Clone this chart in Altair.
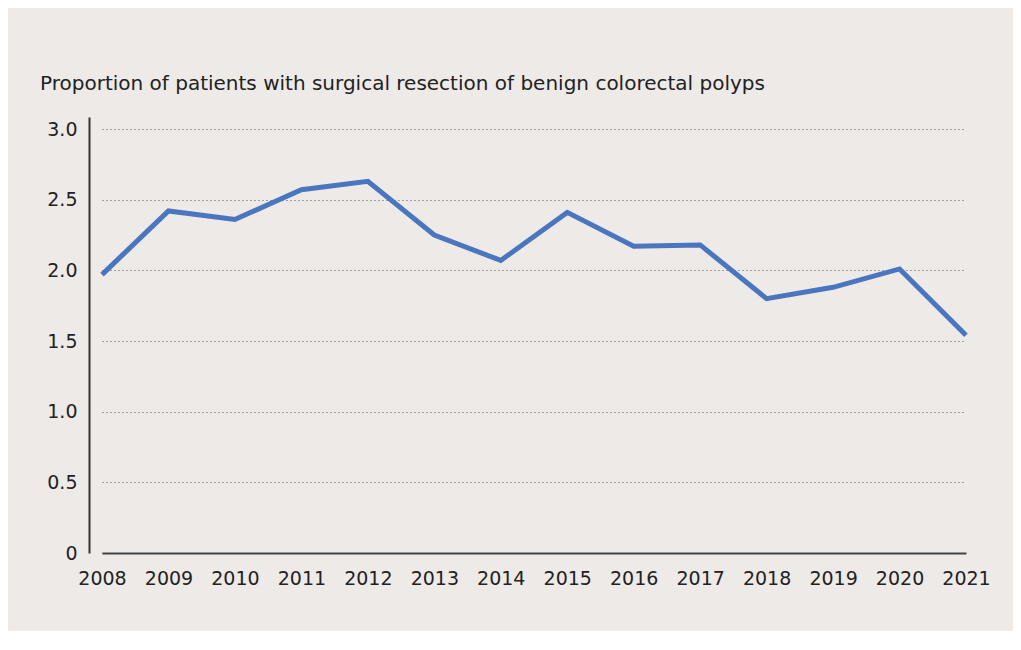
import altair as alt
import pandas as pd

years = [2008, 2009, 2010, 2011, 2012, 2013, 2014, 2015, 2016, 2017, 2018, 2019, 2020, 2021]
values = [1.97, 2.42, 2.36, 2.57, 2.63, 2.25, 2.07, 2.41, 2.17, 2.18, 1.80, 1.88, 2.01, 1.54]
y_ticks = [0, 0.5, 1.0, 1.5, 2.0, 2.5, 3.0]
title_text = "Proportion of patients with surgical resection of benign colorectal polyps"

df = pd.DataFrame({"year": years, "value": values})
FONT = "DejaVu Sans"

line = alt.Chart(df).mark_line(color="#4a76bf", strokeWidth=5, strokeJoin="miter").encode(
    x=alt.X("year:Q",
            scale=alt.Scale(domain=[2008, 2021], nice=False, zero=False),
            axis=alt.Axis(values=years, format="d", title=None, grid=False, ticks=False,
                          labelOverlap=False, labelFlush=False, labelBound=False,
                          domainColor="#444444", domainWidth=2, labelPadding=16,
                          labelFontSize=19, labelColor="#222222", labelFont=FONT)),
    y=alt.Y("value:Q",
            scale=alt.Scale(domain=[0, 3.085], nice=False),
            axis=alt.Axis(values=y_ticks, title=None, ticks=False, offset=13,
                          labelOverlap=False, labelFlush=False,
                          labelExpr="datum.value == 0 ? '0' : format(datum.value, '.1f')",
                          domainColor="#333333", domainWidth=2, labelPadding=12,
                          labelFontSize=19, labelColor="#222222", labelFont=FONT,
                          grid=True, gridColor="#555555", gridDash=[1, 3], gridWidth=1.2)),
)

chart = line.properties(
    width=864,
    height=436,
    padding={"left": 94, "top": 109, "right": 47, "bottom": 78},
    autosize=alt.AutoSizeParams(type="none"),
    background="#eeeae8",
    title=alt.TitleParams(title_text, anchor="start", frame="group", dx=-62, offset=23,
                          fontSize=20, font=FONT, fontWeight="normal", color="#222222"),
).configure_view(stroke=None)

chart.save("out.html", embed_options={"renderer": "svg", "actions": False})
